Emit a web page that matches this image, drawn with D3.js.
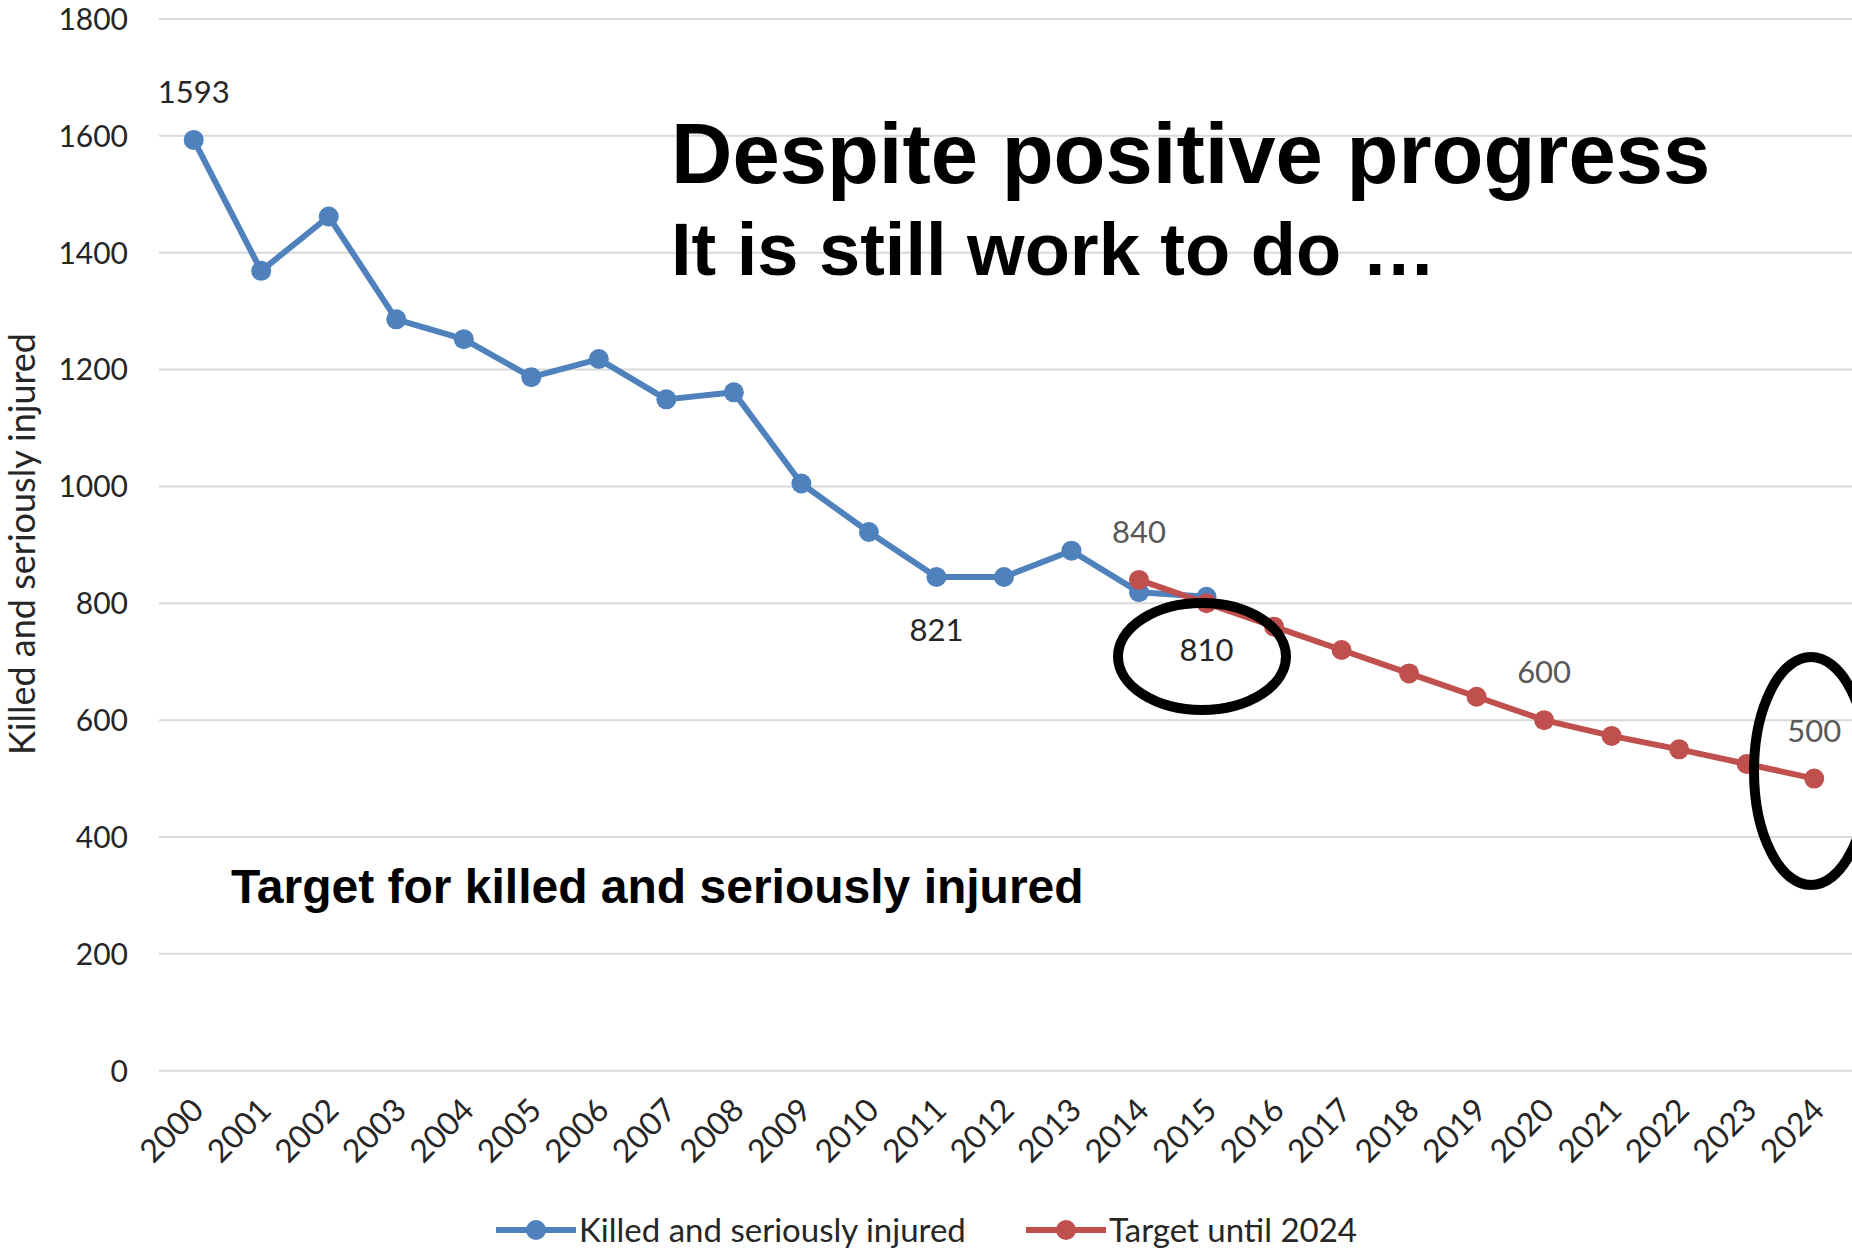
<!DOCTYPE html>
<html>
<head>
  <meta charset="utf-8">
  <script src="https://d3js.org/d3.v7.min.js"></script>
  <style>
      body {
          margin: 0;
          background-color: white;
      }
  </style>
</head>
<body>
<script>
var width = 1852;
var height = 1249;

// categories
const years = ["2000","2001","2002","2003","2004","2005","2006","2007","2008","2009","2010","2011","2012",
               "2013","2014","2015","2016","2017","2018","2019","2020","2021","2022","2023","2024"];

// Killed and seriously injured, 2000-2015
const ksiYears = ["2000","2001","2002","2003","2004","2005","2006","2007","2008","2009","2010","2011","2012","2013","2014","2015"];
const ksiValues = [1593, 1369, 1462, 1286, 1252, 1187, 1218, 1149, 1161, 1005, 922, 845, 845, 890, 819, 811];

// Target until 2024
const targetYears = ["2014","2015","2016","2017","2018","2019","2020","2021","2022","2023","2024"];
const targetValues = [840, 800, 760, 720, 680, 640, 600, 573, 550, 525, 500];

const yTicks = [0, 200, 400, 600, 800, 1000, 1200, 1400, 1600, 1800];

// data labels: text, and the point they hang from
const labelTexts = ["1593", "821", "840", "810", "600", "500"];
const labelYears = ["2000", "2011", "2014", "2015", "2020", "2024"];
const labelValues = [1593, 845, 840, 810, 600, 500];
const labelSide = ["above", "below", "above", "below", "above", "above"];
const labelDark = [true, true, false, true, false, false];

const seriesNames = ["Killed and seriously injured", "Target until 2024"];
const blue = "#4f81bd", red = "#c0504d";

var svg = d3.select("body")
    .append("svg")
    .attr("width", width)
    .attr("height", height)
    .style("font-family", "Lato, 'Open Sans', sans-serif");

svg.append("rect").attr("width", width).attr("height", height).attr("fill", "white");

var x = d3.scalePoint().domain(years).range([193.7, 1814.2]);
var y = d3.scaleLinear().domain([0, 1800]).range([1070.7, 19]);

// gridlines
svg.append("g").selectAll("line")
    .data(yTicks)
    .enter()
    .append("line")
    .attr("x1", 159)
    .attr("x2", width)
    .attr("y1", d => y(d))
    .attr("y2", d => y(d))
    .style("stroke", "#d9d9d9")
    .style("stroke-width", 2);

// y tick labels
svg.append("g").selectAll("text")
    .data(yTicks)
    .enter()
    .append("text")
    .attr("x", 128)
    .attr("y", d => y(d))
    .attr("dy", "0.36em")
    .attr("text-anchor", "end")
    .style("font-size", "30px")
    .style("fill", "#262626")
    .text(d => d);

// x tick labels
svg.append("g").selectAll("text")
    .data(years)
    .enter()
    .append("text")
    .attr("transform", d => `translate(${x(d) + 12}, 1112) rotate(-45)`)
    .attr("text-anchor", "end")
    .style("font-size", "32px")
    .style("fill", "#262626")
    .text(d => d);

// y axis title
svg.append("text")
    .attr("transform", "translate(35, 544) rotate(-90)")
    .attr("text-anchor", "middle")
    .style("font-size", "36px")
    .style("fill", "#262626")
    .text("Killed and seriously injured");

var line = d3.line()
    .x(d => x(d[0]))
    .y(d => y(d[1]));

function drawSeries(ys, vs, color) {
    var pts = ys.map((yr, i) => [yr, vs[i]]);
    svg.append("path")
        .datum(pts)
        .attr("d", line)
        .style("fill", "none")
        .style("stroke", color)
        .style("stroke-width", 6)
        .style("stroke-linejoin", "round");
    svg.append("g").selectAll("circle")
        .data(pts)
        .enter()
        .append("circle")
        .attr("cx", d => x(d[0]))
        .attr("cy", d => y(d[1]))
        .attr("r", 10)
        .style("fill", color);
}

drawSeries(ksiYears, ksiValues, blue);
drawSeries(targetYears, targetValues, red);

// data labels
svg.append("g").selectAll("text")
    .data(labelTexts)
    .enter()
    .append("text")
    .attr("x", (d, i) => x(labelYears[i]))
    .attr("y", (d, i) => y(labelValues[i]) + (labelSide[i] == "above" ? -37 : 64))
    .attr("text-anchor", "middle")
    .style("font-size", "31px")
    .style("fill", (d, i) => labelDark[i] ? "#262626" : "#595959")
    .text(d => d);

// hand drawn ellipses
svg.append("ellipse")
    .attr("cx", 1202).attr("cy", 656.5).attr("rx", 84).attr("ry", 53.5)
    .style("fill", "none").style("stroke", "black").style("stroke-width", 10);
svg.append("ellipse")
    .attr("cx", 1811).attr("cy", 771).attr("rx", 57).attr("ry", 114)
    .style("fill", "none").style("stroke", "black").style("stroke-width", 10);

// headline texts
svg.append("text")
    .attr("x", 671).attr("y", 183)
    .style("font-family", "'Liberation Sans', Arial, sans-serif")
    .style("font-weight", "bold")
    .style("font-size", "85px")
    .text("Despite positive progress");
svg.append("text")
    .attr("x", 671).attr("y", 275)
    .style("font-family", "'Liberation Sans', Arial, sans-serif")
    .style("font-weight", "bold")
    .style("font-size", "74px")
    .text("It is still work to do …");
svg.append("text")
    .attr("x", 231).attr("y", 903)
    .style("font-family", "'Liberation Sans', Arial, sans-serif")
    .style("font-weight", "bold")
    .style("font-size", "48px")
    .text("Target for killed and seriously injured");

// legend
var legend = svg.append("g").selectAll("g")
    .data(seriesNames)
    .enter()
    .append("g")
    .attr("transform", (d, i) => `translate(${i == 0 ? 496 : 1026}, 1230)`);

legend.append("line")
    .attr("x1", 0).attr("x2", 80)
    .style("stroke", (d, i) => i == 0 ? blue : red)
    .style("stroke-width", 6);
legend.append("circle")
    .attr("cx", 40).attr("r", 10)
    .style("fill", (d, i) => i == 0 ? blue : red);
legend.append("text")
    .attr("x", 83)
    .attr("dy", "0.36em")
    .style("font-size", "33px")
    .style("fill", "#262626")
    .text(d => d);
</script>
</body>
</html>
